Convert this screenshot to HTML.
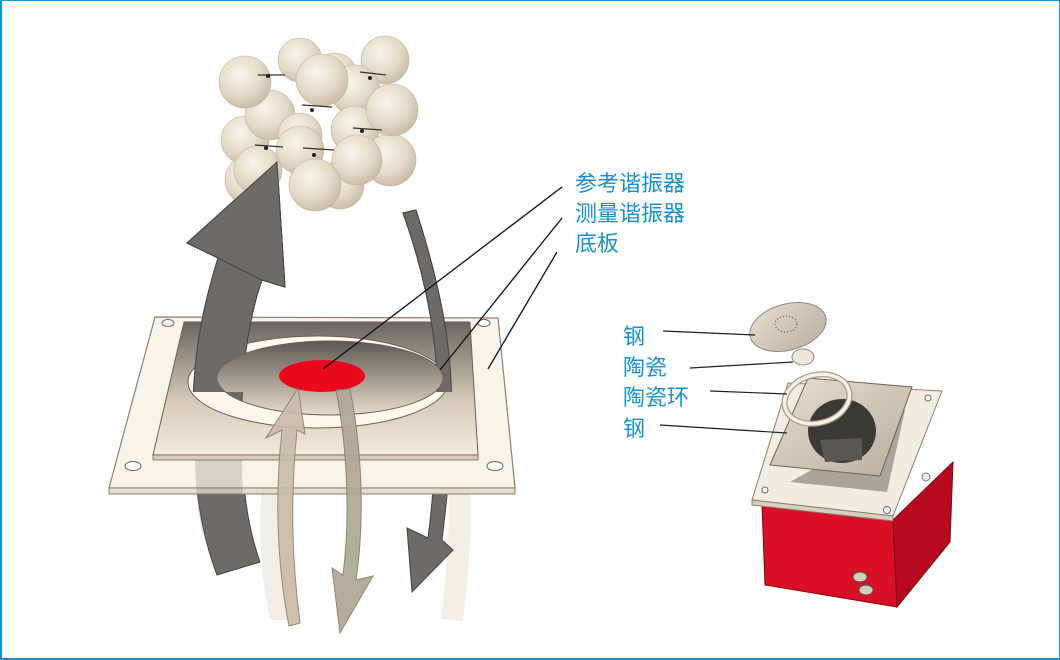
<!DOCTYPE html>
<html><head><meta charset="utf-8"><style>
html,body{margin:0;padding:0;background:#fff}
.w{width:1060px;height:660px;position:relative;overflow:hidden;box-sizing:border-box;border:2px solid #1a8fd0;border-top-width:1px;border-right-width:1px}
svg{position:absolute;left:-2px;top:-1px}
text{font-family:"Liberation Sans","Noto Sans CJK SC",sans-serif;fill:#1a8fd0;font-size:22px}
</style></head><body><div class="w">
<svg width="1060" height="660" viewBox="0 0 1060 660">
<defs>
<radialGradient id="sp" cx="0.4" cy="0.35" r="0.7"><stop offset="0" stop-color="#faf6ee"/><stop offset="0.6" stop-color="#e4d9c6"/><stop offset="1" stop-color="#c7b9a1"/></radialGradient>
<linearGradient id="pl" x1="0" y1="0" x2="0" y2="1"><stop offset="0" stop-color="#6a655e"/><stop offset="0.6" stop-color="#d8cbb8"/><stop offset="1" stop-color="#f4eadb"/></linearGradient>
<linearGradient id="el" x1="0" y1="0" x2="0" y2="1"><stop offset="0" stop-color="#5c5750"/><stop offset="1" stop-color="#e8dccb"/></linearGradient>
<linearGradient id="st" x1="0" y1="0" x2="1" y2="1"><stop offset="0" stop-color="#e8dfd2"/><stop offset="1" stop-color="#b9ad9c"/></linearGradient>
<clipPath id="top"><path clip-rule="evenodd" d="M0,0 H1060 V392 H0 Z M217,378 A113,37 0 1 0 443,378 A113,37 0 1 0 217,378 Z"/></clipPath>
<path id="bigA" d="M217,575 L260,562 C245,520 240,470 242,400 C244,340 255,300 262,280 L285,287 L277,162 L187,243 L218,258 C205,300 193,350 193,410 C193,480 200,530 217,575 Z"/>
<path id="thinA" d="M403,213 L416,210 C432,260 448,320 451,380 C454,440 448,490 442,540 L453,550 L412,592 L407,528 L428,538 C434,490 438,440 437,380 C435,320 420,260 403,213 Z"/>
</defs>
<!-- faint light bands (behind) -->
<path d="M265,470 C255,520 262,580 270,620 L300,620 C292,570 290,520 295,470 Z" fill="#e9dcc8" opacity="0.5"/>
<path d="M458,470 C462,520 458,570 452,620" stroke="#eee3d3" stroke-width="22" fill="none" opacity="0.6"/>
<!-- arrows behind plate -->
<use href="#bigA" fill="#6e6a64" stroke="#444" stroke-width="1"/>
<use href="#thinA" fill="#6e6a64" stroke="#444" stroke-width="1"/>
<!-- plate -->
<polygon points="155,317 498,318 515,488 109,488" fill="#faf3e8" stroke="#8a8070" stroke-width="1.2"/>
<polygon points="109,488 515,488 515,494 109,494" fill="#e6dccd" stroke="#8a8070" stroke-width="1"/>
<polygon points="184,322 470,322 478,455 153,455" fill="url(#pl)" stroke="#6a6258" stroke-width="1"/>
<polygon points="153,455 478,455 478,460 153,460" fill="#d9ccb8" stroke="#6a6258" stroke-width="0.8"/>
<ellipse cx="168" cy="323" rx="6" ry="3.5" fill="#fff" stroke="#666"/>
<ellipse cx="484" cy="323" rx="6" ry="3.5" fill="#fff" stroke="#666"/>
<ellipse cx="133" cy="466" rx="8" ry="4.5" fill="#fff" stroke="#666"/>
<ellipse cx="495" cy="466" rx="8" ry="4.5" fill="#fff" stroke="#666"/>
<ellipse cx="318" cy="382" rx="130" ry="46" fill="#fff8ee" stroke="#6a6258"/>
<ellipse cx="330" cy="378" rx="113" ry="37" fill="url(#el)" stroke="#6a6258"/>
<ellipse cx="322" cy="376" rx="43" ry="16" fill="#e8081c"/>
<!-- arrows over plate (upper parts) -->
<g clip-path="url(#top)">
<use href="#bigA" fill="#6e6a64" stroke="#444" stroke-width="1"/>
<use href="#thinA" fill="#6e6a64" stroke="#444" stroke-width="1"/>
</g>
<!-- translucent lower parts over plate -->
<path d="M195,460 C196,490 198,520 205,540 L250,540 C244,520 242,490 242,460 Z" fill="#6e6a64" opacity="0.25"/>
<!-- light up arrow -->
<path d="M289,626 L300,623 C292,560 290,500 297,430 L305,434 L298,388 L266,438 L282,430 C274,500 278,570 289,626 Z" fill="#c9bba6" stroke="#8a7e6c" stroke-width="1" opacity="0.9"/>
<!-- light down arrow -->
<path d="M336,390 L350,389 C362,450 365,520 356,580 L373,576 L340,633 L332,568 L343,575 C350,520 348,450 336,390 Z" fill="#b3a896" stroke="#8a7e6c" stroke-width="1" opacity="0.95"/>
<!-- spheres -->
<g fill="url(#sp)" stroke="#c4b59c" stroke-width="0.6">
<circle cx="250" cy="180" r="25"/><circle cx="300" cy="60" r="22"/><circle cx="335" cy="75" r="22"/><circle cx="385" cy="60" r="24"/>
<circle cx="245" cy="140" r="24"/><circle cx="270" cy="115" r="25"/><circle cx="300" cy="135" r="22"/><circle cx="355" cy="90" r="25"/>
<circle cx="355" cy="130" r="24"/><circle cx="390" cy="160" r="26"/><circle cx="340" cy="185" r="24"/>
<circle cx="245" cy="82" r="26"/><circle cx="322" cy="80" r="26"/><circle cx="392" cy="110" r="26"/>
<circle cx="258" cy="170" r="24"/><circle cx="300" cy="150" r="24"/><circle cx="357" cy="160" r="25"/><circle cx="315" cy="185" r="26"/>
</g>
<g stroke="#333" stroke-width="1.2">
<line x1="258" y1="75" x2="285" y2="75"/><line x1="360" y1="72" x2="386" y2="75"/><line x1="302" y1="105" x2="332" y2="107"/>
<line x1="353" y1="128" x2="382" y2="130"/><line x1="255" y1="145" x2="283" y2="147"/><line x1="303" y1="148" x2="334" y2="150"/>
</g>
<g fill="#222"><circle cx="268" cy="76" r="2"/><circle cx="370" cy="78" r="2"/><circle cx="312" cy="110" r="2"/><circle cx="362" cy="131" r="2"/><circle cx="266" cy="148" r="2"/><circle cx="314" cy="155" r="2"/></g>
<!-- big arrow head over spheres -->
<path d="M262,280 L285,287 L277,162 L187,243 L218,258 Z" fill="#6e6a64" stroke="#444" stroke-width="1"/>
<!-- leader lines left -->
<g stroke="#111" stroke-width="1.3">
<line x1="562" y1="187" x2="323" y2="369"/>
<line x1="562" y1="218" x2="440" y2="370"/>
<line x1="557" y1="252" x2="488" y2="369"/>
</g>
<text x="575" y="191">参考谐振器</text>
<text x="575" y="221">测量谐振器</text>
<text x="575" y="251">底板</text>
<!-- right device: red box -->
<polygon points="762,505 893,520 897,607 765,585" fill="#d80f25" stroke="#7a0a14"/>
<polygon points="893,520 953,462 950,542 897,607" fill="#b70a1e" stroke="#7a0a14"/>
<circle cx="926" cy="477" r="4" fill="#eee" stroke="#777"/>
<g fill="#d6ccb8" stroke="#555"><ellipse cx="860" cy="577" rx="7" ry="5"/><ellipse cx="866" cy="590" rx="7" ry="5"/></g>
<!-- plate -->
<polygon points="788,383 942,391 893,516 752,500" fill="#f3ece1" stroke="#8a8070"/>
<polygon points="752,500 893,516 893,521 752,505" fill="#d8cfc0" stroke="#8a8070"/>
<polygon points="815,468 905,410 887,492 790,482" fill="#7b756d" opacity="0.6"/>
<polygon points="808,378 912,387 880,476 770,465" fill="url(#st)" stroke="#6a6258"/>
<ellipse cx="842" cy="431" rx="34" ry="32" fill="#3c3a37"/>
<path d="M820,440 L862,438 L862,460 L825,462 Z" fill="#5a5650"/>
<circle cx="765" cy="490" r="3" fill="#fff" stroke="#666"/>
<circle cx="928" cy="398" r="3" fill="#fff" stroke="#666"/>
<circle cx="887" cy="510" r="3.5" fill="#fff" stroke="#666"/>
<ellipse cx="817" cy="399" rx="33" ry="24" transform="rotate(-15 817 399)" fill="none" stroke="#a89c8a" stroke-width="6"/>
<ellipse cx="817" cy="399" rx="33" ry="24" transform="rotate(-15 817 399)" fill="none" stroke="#f7f1e7" stroke-width="3.5"/>
<ellipse cx="788" cy="327" rx="39" ry="23" transform="rotate(-15 788 327)" fill="url(#st)" stroke="#888"/>
<ellipse cx="786" cy="324" rx="11" ry="8" fill="none" stroke="#555" stroke-width="1" stroke-dasharray="1.2 2"/>
<ellipse cx="803" cy="357" rx="11" ry="8" fill="#efe6d7" stroke="#888"/>
<g stroke="#222" stroke-width="1.2">
<line x1="663" y1="331" x2="755" y2="335"/>
<line x1="690" y1="368" x2="793" y2="362"/>
<line x1="710" y1="391" x2="787" y2="394"/>
<line x1="660" y1="425" x2="787" y2="433"/>
</g>
<text x="623" y="344">钢</text>
<text x="623" y="375">陶瓷</text>
<text x="623" y="405">陶瓷环</text>
<text x="623" y="436">钢</text>
</svg></div></body></html>
